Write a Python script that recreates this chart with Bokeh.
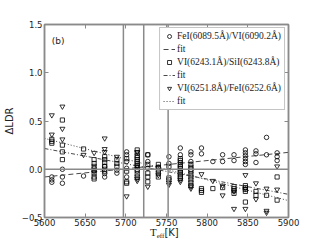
from bokeh.plotting import figure
from bokeh.layouts import column
from bokeh.models import (Span, Label, Legend, LegendItem, LinearAxis, FixedTicker,
                          CustomJSTickFormatter, Div)
from bokeh.embed import file_html
from bokeh.resources import INLINE

# ---------------- data ----------------
x_ticks = [5600, 5650, 5700, 5750, 5800, 5850, 5900]
y_ticks = [-0.5, 0.0, 0.5, 1.0, 1.5]

circ_teff = [5609, 5609, 5609, 5622, 5622, 5622, 5648, 5661, 5661, 5674, 5674, 5674,
             5689, 5689, 5701, 5701, 5701, 5701, 5701, 5714, 5714, 5727, 5727, 5727,
             5740, 5753, 5753, 5767, 5767, 5767, 5780, 5780, 5780, 5793, 5793, 5807,
             5819, 5819, 5833, 5833, 5847, 5847, 5847, 5847, 5847, 5847, 5860, 5860,
             5860, 5873, 5873, 5886, 5886, 5886]
circ_dldr = [-0.08, -0.11, -0.135, 0.0, -0.08, -0.145, -0.07, 0.01, -0.02, 0.03, -0.045, -0.08,
             -0.01, -0.04, 0.18, 0.15, 0.08, 0.01, -0.08, 0.02, -0.02, 0.15, 0.08, 0.01,
             0.02, 0.13, 0.06, 0.22, 0.15, 0.07, 0.18, 0.15, 0.08, 0.22, 0.16, 0.08,
             0.15, 0.08, 0.15, 0.09, 0.20, 0.17, 0.14, 0.11, 0.08, 0.05, 0.19, 0.16,
             0.07, 0.33, 0.15, 0.17, 0.13, 0.09]

sq_teff = [5609, 5609, 5609, 5622, 5622, 5622, 5622, 5648,
           5661, 5661, 5661, 5661, 5661, 5661, 5661,
           5674, 5674, 5674, 5674, 5674, 5674, 5689, 5689, 5689,
           5701, 5701, 5701, 5701,
           5714, 5714, 5714, 5714, 5714, 5714, 5714, 5714, 5714, 5714, 5714,
           5727, 5727, 5727, 5727, 5727, 5740, 5740, 5740, 5740, 5740,
           5753, 5753, 5753,
           5767, 5767, 5767, 5767, 5767, 5767, 5767, 5767, 5767, 5767,
           5780, 5780, 5780, 5780, 5780, 5780, 5780, 5780, 5780,
           5793, 5793, 5793, 5807, 5819, 5833, 5833, 5833, 5833,
           5847, 5847, 5847, 5847, 5847, 5860, 5860, 5873, 5886, 5886]
sq_dldr = [0.31, 0.29, 0.27, 0.51, 0.25, 0.18, 0.10, 0.21,
           0.10, 0.06, 0.03, -0.01, -0.04, -0.08, -0.10,
           0.13, 0.10, 0.07, 0.03, 0.0, -0.02, 0.10, 0.06, 0.03,
           0.11, -0.02, -0.13, -0.145,
           0.20, 0.17, 0.14, 0.12, 0.10, 0.08, 0.06, 0.04, 0.0, -0.05, -0.08,
           0.15, 0.05, -0.04, -0.08, -0.13, 0.05, 0.02, -0.01, -0.04, -0.08,
           0.03, -0.09, -0.11,
           0.11, 0.09, 0.05, 0.03, 0.01, -0.01, -0.03, -0.05, -0.07, -0.09,
           0.05, 0.02, 0.0, -0.02, -0.05, -0.08, -0.11, -0.14, -0.17,
           -0.20, -0.22, -0.24, -0.20, -0.19, -0.18, -0.20, -0.22, -0.25,
           -0.17, -0.19, -0.21, -0.23, -0.34, -0.23, -0.27, -0.27, -0.08, -0.32]

tri_teff = [5609, 5609, 5622, 5622, 5622, 5648, 5661, 5674, 5674, 5674, 5689, 5701,
            5714, 5714, 5714, 5714, 5727, 5740, 5753, 5753, 5767, 5767, 5780, 5780,
            5793, 5807, 5819, 5819, 5833, 5833, 5847, 5847, 5847, 5860, 5860,
            5873, 5873, 5873, 5886, 5886]
tri_dldr = [0.56, 0.36, 0.65, 0.42, 0.31, 0.15, 0.17, 0.32, 0.21, 0.18, 0.13, -0.28,
            0.18, 0.03, -0.10, -0.12, -0.18, -0.06, -0.14, -0.16, -0.11, -0.13, -0.18, -0.20,
            -0.05, -0.12, -0.17, -0.27, -0.23, -0.41, -0.06, -0.20, -0.41, -0.145, -0.31,
            -0.20, -0.43, -0.45, 0.03, -0.21]

fit_teff = [5600, 5900]
fit_circ = [-0.08, 0.175]
fit_sq = [0.215, -0.26]
fit_tri = [0.32, -0.325]

vline_teff = [5697, 5722, 5752]

labels = ["FeI(6089.5Å)/VI(6090.2Å)", "fit",
          "VI(6243.1Å)/SiI(6243.8Å)", "fit",
          "VI(6251.8Å)/FeI(6252.6Å)", "fit"]

# ---------------- plot ----------------
GRAY = "#8a8a8a"
INK = "#222222"

p = figure(width=320, height=228, x_range=(5600, 5900), y_range=(-0.5, 1.5),
           output_backend="svg", toolbar_location=None, title=None,
           min_border_left=40, min_border_right=32, min_border_top=24, min_border_bottom=11)
p.grid.visible = False
p.outline_line_color = GRAY
p.outline_line_width = 1.5
p.background_fill_color = "white"
p.border_fill_color = "white"

p.add_layout(LinearAxis(), "above")
p.add_layout(LinearAxis(), "right")

fmt = CustomJSTickFormatter(code="return tick.toFixed(1).replace('-', '\\u2212')")
blank = CustomJSTickFormatter(code="return ''")

for ax in p.xaxis:
    ax.ticker = FixedTicker(ticks=x_ticks)
for ax in p.yaxis:
    ax.ticker = FixedTicker(ticks=y_ticks)
for ax in p.xaxis + p.yaxis:
    ax.major_tick_in = 4
    ax.major_tick_out = 0
    ax.minor_tick_line_color = None
    ax.axis_line_color = GRAY
    ax.axis_line_width = 1.5
    ax.major_tick_line_color = GRAY
    ax.major_tick_line_width = 1
    ax.major_label_text_font = "DejaVu Sans"
    ax.major_label_text_font_size = "8.5px"
    ax.major_label_text_color = INK
    ax.major_label_standoff = 2
p.below[0].major_label_standoff = 1
p.above[0].formatter = blank
p.right[0].formatter = blank
p.left[0].formatter = fmt
p.left[0].axis_label = "ΔLDR"
p.left[0].axis_label_text_font = "DejaVu Sans"
p.left[0].axis_label_text_font_style = "normal"
p.left[0].axis_label_text_font_size = "10px"
p.left[0].axis_label_text_color = INK
p.left[0].axis_label_standoff = 4

for t in vline_teff:
    p.add_layout(Span(location=t, dimension="height", line_color=GRAY, line_width=1.5))
p.add_layout(Span(location=0, dimension="width", line_color=GRAY, line_width=1.5))

r_c = p.scatter(circ_teff, circ_dldr, marker="circle", size=4.5, fill_color=None,
                line_color="black", line_width=0.8)
r_cf = p.line(fit_teff, fit_circ, line_color="#333333", line_width=0.9, line_dash="5 3")
r_s = p.scatter(sq_teff, sq_dldr, marker="square", size=4.2, fill_color=None,
                line_color="black", line_width=0.8)
r_sf = p.line(fit_teff, fit_sq, line_color="#333333", line_width=0.9, line_dash="4 2 1 2")
r_t = p.scatter(tri_teff, tri_dldr, marker="inverted_triangle", size=5, fill_color=None,
                line_color="black", line_width=0.8)
r_tf = p.line(fit_teff, fit_tri, line_color="#333333", line_width=0.9, line_dash="1 2")

legend = Legend(items=[LegendItem(label=labels[0], renderers=[r_c]),
                       LegendItem(label=labels[1], renderers=[r_cf]),
                       LegendItem(label=labels[2], renderers=[r_s]),
                       LegendItem(label=labels[3], renderers=[r_sf]),
                       LegendItem(label=labels[4], renderers=[r_t]),
                       LegendItem(label=labels[5], renderers=[r_tf])],
                location="top_right", margin=3, padding=3, spacing=3,
                glyph_width=12, glyph_height=10, label_height=10, label_standoff=2,
                label_text_font="Liberation Serif", label_text_font_size="9.5px",
                label_text_color=INK,
                border_line_color=GRAY, border_line_width=1.2,
                background_fill_color="white", background_fill_alpha=1.0)
p.add_layout(legend)

p.add_layout(Label(x=5609, y=1.33, text="(b)", text_font="DejaVu Sans",
                   text_font_size="9px", text_color=INK, text_baseline="middle"))

# x-axis title (T_eff with subscript) as HTML text under the plot
xlabel_html = (
    '<div style="position:relative;width:320px;height:12px;margin:0;padding:0;">'
    '<span style="position:absolute;left:150px;top:-1px;line-height:11px;'
    'white-space:nowrap;color:#222222;">'
    '<span style="font-family:\'Liberation Serif\';font-size:11px;">T</span>'
    '<span style="font-family:\'Liberation Serif\';font-size:7px;position:relative;top:2px;">eff</span>'
    '<span style="font-family:\'DejaVu Sans\';font-size:10px;">[K]</span>'
    '</span></div>'
)
xlabel = Div(text=xlabel_html, width=320, height=12, margin=(0, 0, 0, 0))

layout = column(p, xlabel, spacing=0)
open("out.html", "w").write(file_html(layout, INLINE))
